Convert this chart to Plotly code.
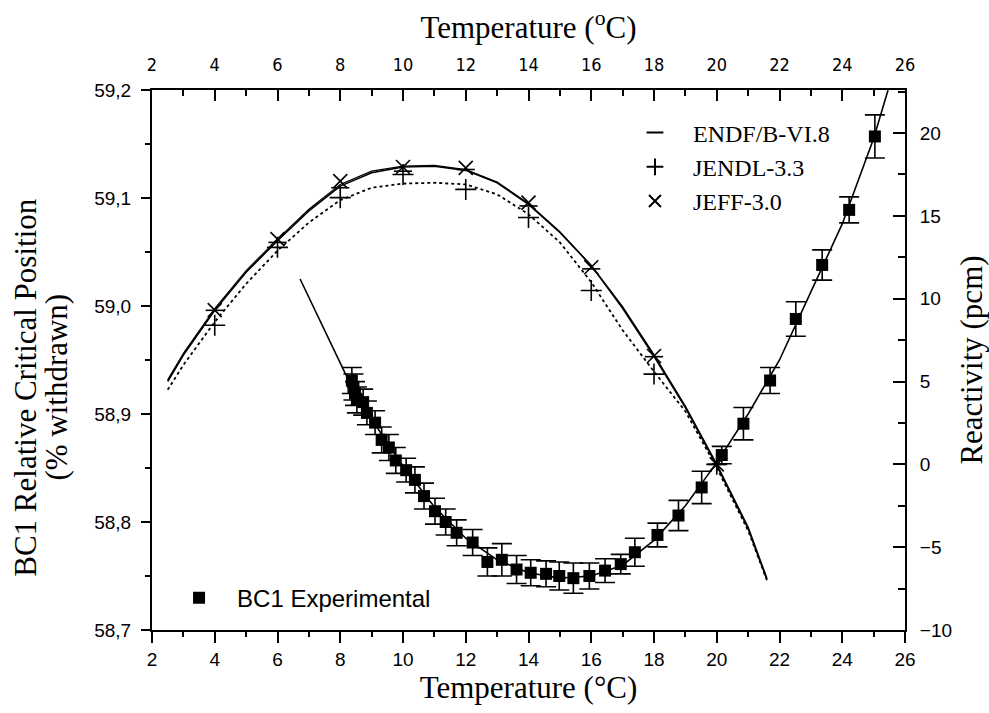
import plotly.graph_objects as go

# ---------------- data ----------------
# Experimental BC1 relative critical position (left axis)
exp_temp = [8.37, 8.42, 8.47, 8.53, 8.73, 8.85, 9.11, 9.32, 9.55, 9.77, 10.10, 10.38,
            10.67, 11.02, 11.36, 11.71, 12.22, 12.69, 13.15, 13.62, 14.07, 14.56, 14.98,
            15.43, 15.94, 16.44, 16.94, 17.39, 18.11, 18.78, 19.52, 20.16, 20.85, 21.70,
            22.52, 23.36, 24.22, 25.04]
exp_pos = [58.931, 58.925, 58.919, 58.913, 58.911, 58.901, 58.892, 58.876, 58.869, 58.857,
           58.848, 58.839, 58.824, 58.810, 58.800, 58.790, 58.781, 58.763, 58.765, 58.756,
           58.753, 58.752, 58.750, 58.748, 58.750, 58.755, 58.761, 58.772, 58.788, 58.806,
           58.832, 58.862, 58.891, 58.931, 58.988, 59.038, 59.089, 59.157]
exp_err = [0.012, 0.012, 0.011, 0.012, 0.012, 0.011, 0.011, 0.012, 0.012, 0.012, 0.011, 0.012,
           0.012, 0.012, 0.012, 0.012, 0.012, 0.013, 0.015, 0.013, 0.012, 0.012, 0.013, 0.014,
           0.012, 0.011, 0.009, 0.013, 0.011, 0.014, 0.015, 0.008, 0.015, 0.012, 0.016, 0.014,
           0.012, 0.020]

# Fit through experimental points (left axis)
fit_temp = [6.72, 7.5, 8.15, 9, 10, 11, 12, 13, 14, 15, 16, 17, 18, 19, 20, 21, 22, 23, 24, 25, 25.46]
fit_pos = [59.025, 58.978, 58.938, 58.895, 58.852, 58.814, 58.785, 58.765, 58.753, 58.748,
           58.750, 58.760, 58.783, 58.815, 58.855, 58.900, 58.950, 59.013, 59.076, 59.155, 59.2]

# Calculated reactivity (right axis, pcm)
calc_temp = [4, 6, 8, 10, 12, 14, 16, 18, 20]
endf_pts = [9.3, 13.4, 16.7, 17.7, 17.8, 15.6, 11.8, 6.5, 0.0]
jendl_pts = [8.4, 13.1, 16.1, 17.5, 16.6, 14.9, 10.5, 5.45, 0.0]
jeff_pts = [9.31, 13.6, 17.1, 17.95, 17.9, 15.8, 11.9, 6.54, 0.0]

curve_temp = [2.5, 3, 4, 5, 6, 7, 8, 9, 10, 11, 12, 13, 14, 15, 16, 17, 18, 19, 20, 21, 21.6]
endf_curve = [5.0, 6.6, 9.3, 11.6, 13.5, 15.3, 16.8, 17.6, 17.95, 18.0, 17.75, 17.0, 15.7,
              14.0, 12.0, 9.5, 6.6, 3.5, 0.0, -3.8, -6.9]
jeff_curve = [5.1, 6.7, 9.4, 11.7, 13.6, 15.4, 16.9, 17.7, 18.0, 18.05, 17.8, 17.05, 15.75,
              14.05, 12.0, 9.4, 6.5, 3.4, -0.1, -3.9, -7.0]
jendl_curve = [4.5, 6.0, 8.6, 10.9, 12.9, 14.6, 15.95, 16.7, 16.95, 17.0, 16.9, 16.3, 15.1,
               13.4, 11.0, 8.1, 5.6, 3.2, -0.2, -4.0, -7.0]

x_ticks = list(range(2, 27, 2))
left_ticks = [58.7, 58.8, 58.9, 59.0, 59.1, 59.2]
right_ticks = [-10, -5, 0, 5, 10, 15, 20]

# ---------------- figure ----------------
serif = "Liberation Serif, Times New Roman, serif"
sans = "Liberation Sans, Arial, sans-serif"
narrow = "Liberation Sans Narrow, DejaVu Sans Condensed, Liberation Sans, Arial, sans-serif"
black = "#000000"
title_size = 31

fig = go.Figure()

# calculated curves (right axis, drawn against the top temperature axis)
fig.add_trace(go.Scatter(x=curve_temp, y=jendl_curve, xaxis="x2", yaxis="y2", mode="lines",
                         line=dict(color=black, width=1.8, dash="dot"), showlegend=False,
                         hoverinfo="skip"))
fig.add_trace(go.Scatter(x=curve_temp, y=jeff_curve, xaxis="x2", yaxis="y2", mode="lines",
                         line=dict(color=black, width=1.2), showlegend=False, hoverinfo="skip"))
fig.add_trace(go.Scatter(x=curve_temp, y=endf_curve, xaxis="x2", yaxis="y2", mode="lines",
                         line=dict(color=black, width=1.6), showlegend=False, hoverinfo="skip"))

fig.add_trace(go.Scatter(x=calc_temp, y=endf_pts, xaxis="x2", yaxis="y2", mode="markers",
                         name="ENDF/B-VI.8", legend="legend",
                         marker=dict(symbol="line-ew", size=13, color=black,
                                     line=dict(color=black, width=1.6))))
fig.add_trace(go.Scatter(x=calc_temp, y=jendl_pts, xaxis="x2", yaxis="y2", mode="markers",
                         name="JENDL-3.3", legend="legend",
                         marker=dict(symbol="cross-thin", size=15, color=black,
                                     line=dict(color=black, width=1.6))))
fig.add_trace(go.Scatter(x=calc_temp, y=jeff_pts, xaxis="x2", yaxis="y2", mode="markers",
                         name="JEFF-3.0", legend="legend",
                         marker=dict(symbol="x-thin", size=14, color=black,
                                     line=dict(color=black, width=1.6))))

# experimental fit + points (left axis)
fig.add_trace(go.Scatter(x=fit_temp, y=fit_pos, mode="lines", showlegend=False,
                         line=dict(color=black, width=1.6), hoverinfo="skip"))
fig.add_trace(go.Scatter(x=exp_temp, y=exp_pos, mode="markers", name="BC1 Experimental",
                         legend="legend2",
                         marker=dict(symbol="square", size=12, color=black),
                         error_y=dict(type="data", array=exp_err, color=black,
                                      thickness=1.6, width=10)))

axis_common = dict(showline=True, linecolor=black, linewidth=2, showgrid=False,
                   zeroline=False, tickcolor=black, tickwidth=1.5, automargin=False)

fig.update_layout(
    width=989, height=713,
    margin=dict(l=152, r=84, t=90, b=83),
    paper_bgcolor="white", plot_bgcolor="white",
    separators=",.",
    xaxis=dict(range=[2, 26], tickvals=x_ticks, ticks="outside", ticklen=11,
               minor=dict(dtick=1, ticks="outside", ticklen=5, tickcolor=black, tickwidth=1.5),
               tickfont=dict(family=sans, size=19, color=black),
               title=dict(text="Temperature (°C)",
                          font=dict(family=serif, size=title_size, color=black), standoff=8),
               **axis_common),
    xaxis2=dict(range=[2, 26], overlaying="x", side="top", anchor="y2", matches="x",
                tickvals=x_ticks, ticks="inside", ticklen=11,
                minor=dict(dtick=1, ticks="inside", ticklen=6, tickcolor=black, tickwidth=1.5),
                tickfont=dict(family=narrow, size=18, color=black), ticklabelstandoff=10,
                title=dict(text="Temperature (<sup>o</sup>C)",
                           font=dict(family=serif, size=title_size, color=black), standoff=6),
                **axis_common),
    yaxis=dict(range=[58.7, 59.2], tickvals=left_ticks, tickformat=".1f", ticks="outside",
               ticklen=9,
               minor=dict(dtick=0.05, ticks="outside", ticklen=5, tickcolor=black, tickwidth=1.5),
               tickfont=dict(family=sans, size=19, color=black), ticklabelstandoff=6,
               **axis_common),
    yaxis2=dict(range=[-10, 22.6], overlaying="y", side="right", anchor="x2",
                tickvals=right_ticks, ticks="inside", ticklen=12,
                minor=dict(dtick=2.5, ticks="inside", ticklen=7, tickcolor=black, tickwidth=1.5),
                tickfont=dict(family=sans, size=19, color=black), ticklabelstandoff=9,
                title=dict(text="Reactivity (pcm)",
                           font=dict(family=serif, size=title_size, color=black), standoff=12),
                **axis_common),
    legend=dict(x=0.6175, y=0.962, xanchor="left", yanchor="top", bgcolor="rgba(0,0,0,0)",
                font=dict(family=serif, size=24, color=black), itemwidth=66,
                itemsizing="constant"),
    legend2=dict(x=0.012, y=0.059, xanchor="left", yanchor="middle", bgcolor="rgba(0,0,0,0)",
                 font=dict(family=sans, size=24, color=black), itemwidth=66),
    annotations=[
        dict(text="BC1 Relative Critical Position", textangle=-90, xref="paper", yref="paper",
             x=-0.169, y=0.45, xanchor="center", yanchor="middle", showarrow=False,
             font=dict(family=serif, size=title_size, color=black)),
        dict(text="(% withdrawn)", textangle=-90, xref="paper", yref="paper",
             x=-0.128, y=0.45, xanchor="center", yanchor="middle", showarrow=False,
             font=dict(family=serif, size=title_size, color=black)),
    ],
)

fig.write_html("out.html", config={"displayModeBar": False},
               post_script="document.body.style.margin='0';")
